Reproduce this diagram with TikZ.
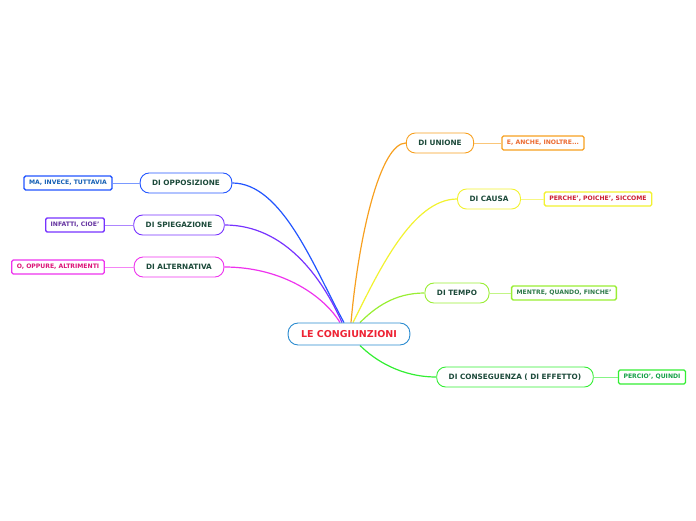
\documentclass[tikz,border=0pt]{standalone}
\usepackage{fontspec}
\setmainfont{DejaVu Sans}
\usepackage{tikz}
\usetikzlibrary{backgrounds}

\definecolor{rootblue}{HTML}{2A8BD0}
\definecolor{rootred}{HTML}{EE2233}
\definecolor{branchtext}{HTML}{1C4A3A}
\definecolor{cunione}{HTML}{F7A020}
\definecolor{ccausa}{HTML}{F2F230}
\definecolor{ctempo}{HTML}{99EE33}
\definecolor{cconseg}{HTML}{33EE33}
\definecolor{coppos}{HTML}{2255FF}
\definecolor{cspieg}{HTML}{7733FF}
\definecolor{caltern}{HTML}{EE33EE}

\begin{document}
\begin{tikzpicture}[x=1pt, y=-1pt,
	rootbox/.style={draw=rootblue, line width=0.9pt, rounded corners=10pt, fill=white, text=rootred, font=\fontsize{9.5}{11}\selectfont\bfseries, minimum height=22pt, inner xsep=13pt},
	branch/.style={draw=#1, line width=0.9pt, rounded corners=9pt, fill=white, text=branchtext, font=\fontsize{7.3}{8}\selectfont\bfseries, minimum height=20pt, inner xsep=12pt},
	leaf/.style={draw=#1, line width=1.3pt, rounded corners=1.5pt, fill=white, font=\fontsize{6.1}{7}\selectfont\bfseries, minimum height=14pt, inner xsep=5pt},
	link/.style={draw=#1, line width=1.2pt},
	leaflink/.style={draw=#1!60, line width=0.6pt}]
	\useasboundingbox (0,0) rectangle (696,520);

	% central topic
	\node[rootbox] (root) at (349,334) {LE CONGIUNZIONI};

	% main branches
	\node[branch=cunione] (unione) at (440,143) {DI UNIONE};
	\node[branch=ccausa] (causa) at (489,199) {DI CAUSA};
	\node[branch=ctempo] (tempo) at (457,293) {DI TEMPO};
	\node[branch=cconseg] (conseg) at (515,377) {DI CONSEGUENZA ( DI EFFETTO)};
	\node[branch=coppos] (oppos) at (186,183) {DI OPPOSIZIONE};
	\node[branch=cspieg] (spieg) at (179,225) {DI SPIEGAZIONE};
	\node[branch=caltern] (altern) at (179,267) {DI ALTERNATIVA};

	% leaves
	\node[leaf=cunione, text={rgb,255:red,236;green,106;blue,48}] (unioneL) at (543,143) {E, ANCHE, INOLTRE...};
	\node[leaf=ccausa, text={rgb,255:red,204;green,30;blue,50}] (causaL) at (598,199) {PERCHE', POICHE', SICCOME};
	\node[leaf=ctempo, text={rgb,255:red,46;green,122;blue,74}] (tempoL) at (564,293) {MENTRE, QUANDO, FINCHE'};
	\node[leaf=cconseg, text={rgb,255:red,20;green,160;blue,70}] (consegL) at (652,377) {PERCIO', QUINDI};
	\node[leaf=coppos, text={rgb,255:red,20;green,95;blue,180}] (opposL) at (68,183) {MA, INVECE, TUTTAVIA};
	\node[leaf=cspieg, text={rgb,255:red,100;green,50;blue,160}] (spiegL) at (75,225) {INFATTI, CIOE'};
	\node[leaf=caltern, text={rgb,255:red,220;green,20;blue,120}] (alternL) at (58,267) {O, OPPURE, ALTRIMENTI};

	% curved links from the centre
	\begin{scope}[on background layer]
		\draw[link=cunione] ([xshift=2pt]root.north) .. controls +(8,-90) and +(-25,0) .. (unione.west);
		\draw[link=ccausa] ([xshift=4pt]root.north) .. controls +(25,-50) and +(-45,0) .. (causa.west);
		\draw[link=ctempo] ([xshift=11pt]root.north) .. controls +(15,-15) and +(-30,0) .. (tempo.west);
		\draw[link=cconseg] ([xshift=11pt]root.south) .. controls +(15,15) and +(-35,0) .. (conseg.west);
		\draw[link=coppos] ([xshift=-5pt]root.north) .. controls +(-30,-55) and +(50,0) .. (oppos.east);
		\draw[link=cspieg] ([xshift=-7pt]root.north) .. controls +(-20,-45) and +(60,0) .. (spieg.east);
		\draw[link=caltern] ([xshift=-9pt]root.north) .. controls +(-15,-25) and +(60,0) .. (altern.east);
	\end{scope}

	% links to the leaves
	\foreach \a/\b/\c in {unione/unioneL/cunione, causa/causaL/ccausa, tempo/tempoL/ctempo, conseg/consegL/cconseg}
		\draw[leaflink=\c] (\a.east) -- (\b.west);
	\foreach \a/\b/\c in {oppos/opposL/coppos, spieg/spiegL/cspieg, altern/alternL/caltern}
		\draw[leaflink=\c] (\a.west) -- (\b.east);
\end{tikzpicture}
\end{document}
